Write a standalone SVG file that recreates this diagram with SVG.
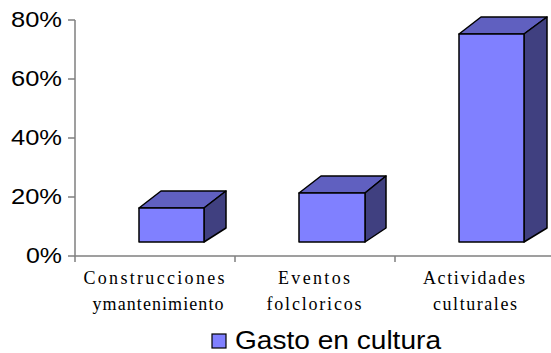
<svg xmlns="http://www.w3.org/2000/svg" width="551" height="353" viewBox="0 0 551 353">
<style>
.ax{stroke:#808080;stroke-width:1.5;fill:none}
.front{fill:#8080FF;stroke:#000;stroke-width:1.5;stroke-linejoin:round}
.top{fill:#6060C0;stroke:#000;stroke-width:1.5;stroke-linejoin:round}
.side{fill:#404080;stroke:#000;stroke-width:1.5;stroke-linejoin:round}
.yl{font-family:"Liberation Sans",Arial,sans-serif;font-size:22px;fill:#000;text-anchor:end}
.cl{font-family:"Liberation Serif","Times New Roman",serif;font-size:18px;fill:#000;text-anchor:middle}
.lg{font-family:"Liberation Sans",Arial,sans-serif;font-size:25px;fill:#000}
</style>
<rect width="551" height="353" fill="#fff"/>
<g id="axes">
<path class="ax" d="M75,20 V256 H551"/>
<path class="ax" d="M68,20 H75 M68,79 H75 M68,138 H75 M68,197 H75 M68,256 H75"/>
<path class="ax" d="M75,256 V262 M235,256 V262 M395,256 V262"/>
</g>
<g id="y-labels">
<text class="yl" x="62" y="27" textLength="51" lengthAdjust="spacingAndGlyphs">80%</text>
<text class="yl" x="62" y="86" textLength="51" lengthAdjust="spacingAndGlyphs">60%</text>
<text class="yl" x="62" y="145" textLength="51" lengthAdjust="spacingAndGlyphs">40%</text>
<text class="yl" x="62" y="204" textLength="51" lengthAdjust="spacingAndGlyphs">20%</text>
<text class="yl" x="62" y="263" textLength="36" lengthAdjust="spacingAndGlyphs">0%</text>
</g>
<g id="bar1">
<polygon class="top" points="139,208 161,191 226,191 204,208"/>
<polygon class="side" points="204,208 226,191 226,228 204,242"/>
<rect class="front" x="139" y="208" width="65" height="34"/>
</g>
<g id="bar2">
<polygon class="top" points="299,193 321,176 386,176 365,193"/>
<polygon class="side" points="365,193 386,176 386,228 365,242"/>
<rect class="front" x="299" y="193" width="66" height="49"/>
</g>
<g id="bar3">
<polygon class="top" points="459,34 481,17 547,17 524,34"/>
<polygon class="side" points="524,34 547,17 547,228 524,242"/>
<rect class="front" x="459" y="34" width="65" height="208"/>
</g>
<g id="cat1">
<text class="cl" x="154" y="284" textLength="141" lengthAdjust="spacing">Construcciones</text>
<text class="cl" x="158" y="310" textLength="131" lengthAdjust="spacing">ymantenimiento</text>
</g>
<g id="cat2">
<text class="cl" x="314" y="284" textLength="72" lengthAdjust="spacing">Eventos</text>
<text class="cl" x="314" y="310" textLength="95" lengthAdjust="spacing">folcloricos</text>
</g>
<g id="cat3">
<text class="cl" x="474" y="284" textLength="102" lengthAdjust="spacing">Actividades</text>
<text class="cl" x="475" y="310" textLength="84" lengthAdjust="spacing">culturales</text>
</g>
<g id="legend">
<rect x="212" y="334" width="14" height="14" fill="#8080FF" stroke="#000" stroke-width="1.2"/>
<text class="lg" x="235" y="348.5" textLength="206" lengthAdjust="spacingAndGlyphs">Gasto en cultura</text>
</g>
</svg>
